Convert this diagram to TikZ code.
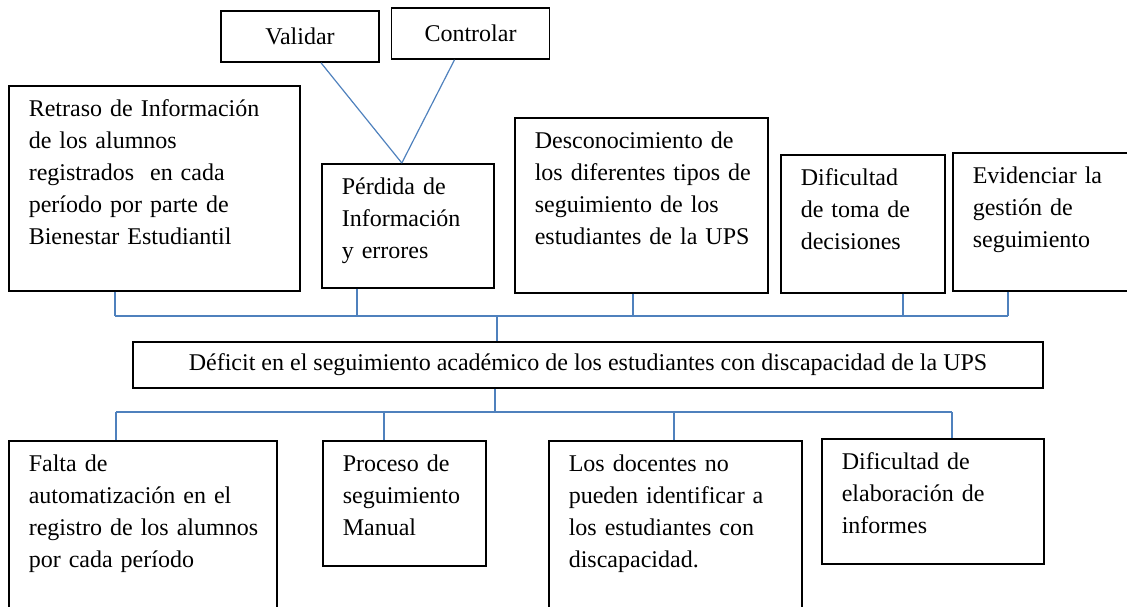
\documentclass[tikz,border=0pt]{standalone}
\usepackage{fontspec}
\setmainfont{Liberation Serif}
\usetikzlibrary{positioning, calc}

\definecolor{azul}{RGB}{79,129,189}

\begin{document}
\begin{tikzpicture}[x=0.5pt, y=-0.5pt,
    node font=\fontsize{12}{16}\selectfont,
    caja/.style={draw, line width=0.8pt, anchor=north west,
        inner xsep=0pt, inner ysep=7pt, text height=8.5pt,
        execute at begin node={\leftskip=10pt\hyphenpenalty=10000}},
    simple/.style={draw, line width=0.8pt, inner sep=0pt},
    conector/.style={draw=azul, line width=0.6pt}]
    \useasboundingbox (0,0) rectangle (1127,606);
    \clip (0,0) rectangle (1127,606);

    \node[simple, minimum width=79pt, minimum height=25.5pt] (validar) at (300,36.5) {Validar};
    \node[simple, minimum width=79pt, minimum height=25.5pt] (controlar) at (470.5,33.5) {Controlar};

    \node[caja, text width=145.5pt, text depth=80pt] (retraso) at (8,85)
        {Retraso de Información\\de los alumnos\\registrados\ \ en cada\\período por parte de\\Bienestar Estudiantil};
    \node[caja, text width=86pt, text depth=39.5pt] (perdida) at (321,163)
        {Pérdida de\\Información\\y errores};
    \node[caja, text width=126.5pt, text depth=65pt] (desconoc) at (514,117)
        {Desconocimiento de\\los diferentes tipos de\\seguimiento de los\\estudiantes de la UPS};
    \node[caja, text width=82pt, text depth=46.5pt] (decisiones) at (780,154)
        {Dificultad\\de toma de\\decisiones};
    \node[caja, text width=92pt, text depth=46.5pt] (evidenciar) at (952,152)
        {Evidenciar la\\gestión de\\seguimiento};

    \node[simple, minimum width=455pt, minimum height=23pt] (central) at (588,365)
        {Déficit en el seguimiento académico de los estudiantes con discapacidad de la UPS};

    \node[caja, text width=134pt, text depth=67.5pt] (falta) at (8,440)
        {Falta de\\automatización en el\\registro de los alumnos\\por cada período};
    \node[caja, text width=81.5pt, text depth=40pt] (proceso) at (322,440)
        {Proceso de\\seguimiento\\Manual};
    \node[caja, text width=126.5pt, text depth=67.5pt] (docentes) at (548,440)
        {Los docentes no\\pueden identificar a\\los estudiantes con\\discapacidad.};
    \node[caja, text width=111pt, text depth=40pt] (informes) at (821,438)
        {Dificultad de\\elaboración de\\informes};

    \draw[conector] ([xshift=10.5pt]validar.south) -- ([xshift=-3pt]perdida.north);
    \draw[conector] ([xshift=-8pt]controlar.south) -- ([xshift=-3pt]perdida.north);

    \coordinate (barra) at (497,316);
    \draw[conector] (115,316) -- (1008,316);
    \draw[conector] (barra) -- (central.north -| barra);
    \foreach \n/\x in {retraso/115, perdida/357, desconoc/633, decisiones/903, evidenciar/1008}
        \draw[conector] (\n.south -| \x,0) -- (\x,316);

    \coordinate (barrab) at (495,412);
    \draw[conector] (116,412) -- (952,412);
    \draw[conector] (central.south -| barrab) -- (barrab);
    \foreach \n/\x in {falta/116, proceso/384, docentes/674, informes/952}
        \draw[conector] (\x,412) -- (\n.north -| \x,0);
\end{tikzpicture}
\end{document}
